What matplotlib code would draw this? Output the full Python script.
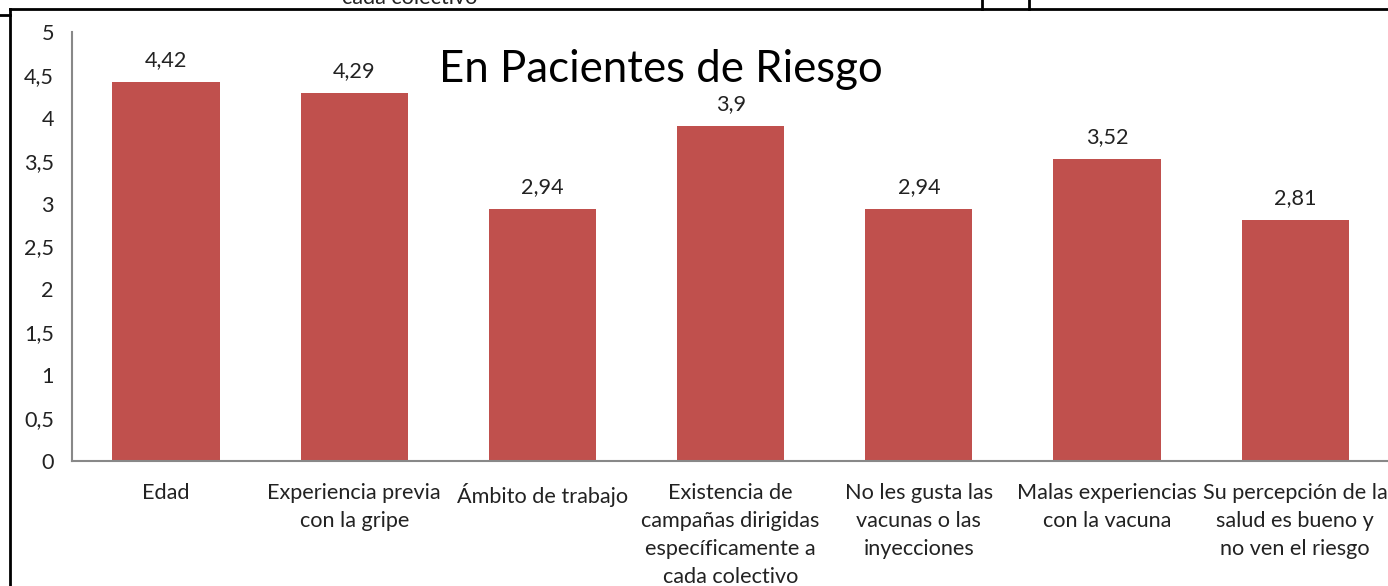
import matplotlib.pyplot as plt
from matplotlib.lines import Line2D

plt.rcParams['font.family'] = ['Lato', 'DejaVu Sans']

# datos
categorias = ['Edad', 'Experiencia previa\ncon la gripe', 'Ámbito de trabajo',
              'Existencia de\ncampañas dirigidas\nespecíficamente a\ncada colectivo',
              'No les gusta las\nvacunas o las\ninyecciones',
              'Malas experiencias\ncon la vacuna',
              'Su percepción de la\nsalud es bueno y\nno ven el riesgo']
valores = [4.42, 4.29, 2.94, 3.9, 2.94, 3.52, 2.81]
etiquetas = ['4,42', '4,29', '2,94', '3,9', '2,94', '3,52', '2,81']
yticks = [0, 0.5, 1, 1.5, 2, 2.5, 3, 3.5, 4, 4.5, 5]
ytick_labels = ['0', '0,5', '1', '1,5', '2', '2,5', '3', '3,5', '4', '4,5', '5']

fs = 15.6

fig = plt.figure(figsize=(13.88, 5.86), dpi=100)
ax = fig.add_axes([0.0519, 0.2133, 0.949, 0.7321])

x = list(range(len(categorias)))
ax.bar(x, valores, width=0.57, color='#C0504D')
for xi, v, lab in zip(x, valores, etiquetas):
    ax.text(xi, v + 0.14, lab, ha='center', va='bottom', fontsize=fs, color='#222222')

ax.set_xlim(-0.5, 6.5)
ax.set_ylim(0, 5)
ax.set_yticks(yticks)
ax.set_yticklabels(ytick_labels, fontsize=fs, color='#222222')
ax.set_xticks(x)
ax.set_xticklabels(categorias, fontsize=fs, color='#222222', linespacing=1.5)
ax.tick_params(axis='both', length=0)
ax.tick_params(axis='y', pad=13)
ax.tick_params(axis='x', pad=16)
for s in ['top', 'right']:
    ax.spines[s].set_visible(False)
ax.spines['left'].set_color('#888888')
ax.spines['bottom'].set_color('#888888')
ax.spines['left'].set_linewidth(1.5)
ax.spines['bottom'].set_linewidth(1.5)

fig.text(0.476, 0.882, 'En Pacientes de Riesgo', ha='center', va='center', fontsize=31.5)

# bordes de la tabla alrededor
fig.add_artist(Line2D([10/1388, 1], [1 - 9/586, 1 - 9/586], color='black', lw=2))
fig.add_artist(Line2D([0, 10/1388], [1 - 15/586, 1 - 15/586], color='black', lw=2))
fig.add_artist(Line2D([10/1388, 10/1388], [0, 1 - 9/586], color='black', lw=2))
fig.add_artist(Line2D([982/1388, 982/1388], [1 - 9/586, 1], color='black', lw=2))
fig.add_artist(Line2D([1029/1388, 1029/1388], [1 - 9/586, 1], color='black', lw=2))
fig.text(410/1388, 1 + 2/586, 'cada colectivo', ha='center', va='center', fontsize=fs, color='#222222')

fig.savefig('out.png', dpi=100)
